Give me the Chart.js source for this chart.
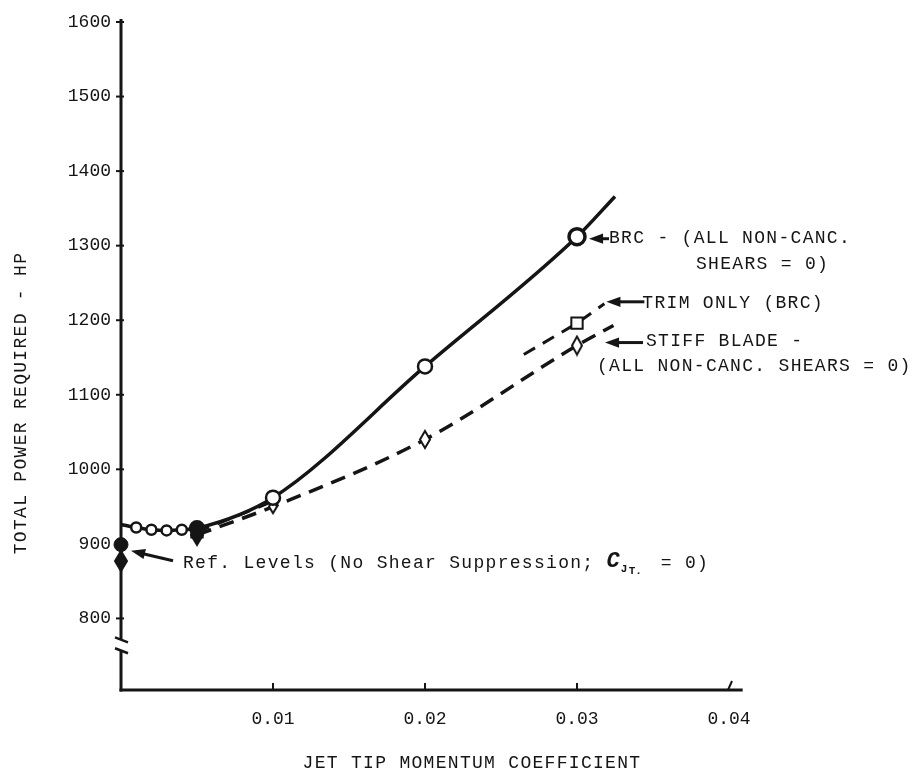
<!DOCTYPE html>
<html>
<head>
<meta charset="utf-8">
<title>Total power required vs jet tip momentum coefficient</title>
<script src="https://cdn.jsdelivr.net/npm/chart.js@4.4.1/dist/chart.umd.min.js"></script>
<style>
  html, body { margin: 0; padding: 0; background: #fff; }
  canvas { display: block; }
</style>
</head>
<body>
<canvas id="powerChart" width="923" height="779"></canvas>
<script>
// DATA
const yTicks = [800, 900, 1000, 1100, 1200, 1300, 1400, 1500, 1600];
const xTicks = [0.01, 0.02, 0.03, 0.04];

// BRC - all non-cancelling shears = 0 (solid)
const brcX = [0, 0.001, 0.002, 0.003, 0.004, 0.005, 0.01, 0.02, 0.03, 0.0325];
const brcY = [926, 922, 919, 918, 919, 921, 962, 1138, 1312, 1366];

// trim only (BRC) - null leaves the gap in the dashes
const trimX = [0.005, 0.01, 0.02, 0.0265, 0.03, 0.0318];
const trimY = [916, 957, null, 1154, 1196, 1222];

// stiff blade
const stiffX = [0.005, 0.01, 0.02, 0.03, 0.0324];
const stiffY = [912, 950, 1040, 1166, 1193];

// reference levels, no shear suppression
const refX = [0, 0];
const refY = [899, 877];

const FONT = "'Courier New', 'Liberation Mono', monospace";
const ink = "#151515";

Chart.defaults.font.family = FONT;
Chart.defaults.color = ink;

const toPoints = (xs, ys) => xs.map((x, i) => ({ x: x, y: ys[i] }));

// tall diamond marker
function diamond(w, h, filled) {
  const c = document.createElement("canvas");
  c.width = w + 4;
  c.height = h + 4;
  const g = c.getContext("2d");
  g.beginPath();
  g.moveTo(c.width / 2, 2);
  g.lineTo(c.width - 2, c.height / 2);
  g.lineTo(c.width / 2, c.height - 2);
  g.lineTo(2, c.height / 2);
  g.closePath();
  g.lineWidth = 2;
  g.strokeStyle = ink;
  g.fillStyle = filled ? ink : "#fff";
  g.fill();
  g.stroke();
  return c;
}

const dSmall = diamond(8, 13, false);
const dMid = diamond(10, 17, false);
const dBig = diamond(10, 18, false);
const dFilled = diamond(12, 20, true);

const axisFrame = {
  id: "axisFrame",
  beforeDatasetsDraw(chart) {
    const { ctx } = chart;
    const x = chart.scales.x;
    const y = chart.scales.y;
    const x0 = x.getPixelForValue(0);
    const yb = y.getPixelForValue(y.min);
    const line = (a, b, c, d) => {
      ctx.beginPath();
      ctx.moveTo(a, b);
      ctx.lineTo(c, d);
      ctx.stroke();
    };
    ctx.save();
    ctx.strokeStyle = ink;
    ctx.lineWidth = 3;

    // vertical axis with a break below 800
    const breakTop = y.getPixelForValue(772);
    const breakBot = y.getPixelForValue(756);
    line(x0, y.getPixelForValue(1600) - 3, x0, breakTop);
    line(x0, breakBot, x0, yb + 1.5);
    ctx.lineWidth = 2.5;
    line(x0 - 6, breakTop - 2, x0 + 7, breakTop + 3);
    line(x0 - 6, breakBot - 3, x0 + 7, breakBot + 2);

    // horizontal axis
    ctx.lineWidth = 3;
    line(x0 - 1.5, yb, x.getPixelForValue(0.0409), yb);

    // tick marks
    ctx.lineWidth = 2;
    yTicks.forEach(v => {
      const py = y.getPixelForValue(v);
      line(x0 - 5, py, x0 + 3, py);
    });
    xTicks.forEach(v => {
      const px = x.getPixelForValue(v);
      if (v === 0.04) line(px - 1, yb, px + 3, yb - 9);
      else line(px, yb, px, yb - 7);
    });
    ctx.restore();
  },
  afterDatasetsDraw(chart) {
    const { ctx } = chart;
    const x = chart.scales.x;
    const y = chart.scales.y;

    const arrow = (tipX, tipY, tailX, tailY) => {
      const ang = Math.atan2(tailY - tipY, tailX - tipX);
      ctx.beginPath();
      ctx.moveTo(tipX + Math.cos(ang) * 8, tipY + Math.sin(ang) * 8);
      ctx.lineTo(tailX, tailY);
      ctx.stroke();
      ctx.beginPath();
      ctx.moveTo(tipX, tipY);
      ctx.lineTo(tipX + Math.cos(ang + 0.35) * 15, tipY + Math.sin(ang + 0.35) * 15);
      ctx.lineTo(tipX + Math.cos(ang - 0.35) * 15, tipY + Math.sin(ang - 0.35) * 15);
      ctx.closePath();
      ctx.fill();
    };

    ctx.save();
    ctx.strokeStyle = ink;
    ctx.fillStyle = ink;
    ctx.lineWidth = 3;
    ctx.textBaseline = "middle";
    ctx.textAlign = "left";
    ctx.font = "18px " + FONT;
    ctx.letterSpacing = "1.3px";

    // BRC
    const bx = x.getPixelForValue(0.03);
    const by = y.getPixelForValue(1312);
    arrow(bx + 12, by + 2, bx + 32, by + 2);
    ctx.fillText("BRC - (ALL NON-CANC.", bx + 32, by + 2);
    ctx.fillText("SHEARS = 0)", bx + 119, by + 28);

    // trim only
    const tx = x.getPixelForValue(0.0318);
    const ty = y.getPixelForValue(1222);
    arrow(tx + 2, ty - 2, tx + 40, ty - 2);
    ctx.fillText("TRIM ONLY (BRC)", tx + 38, ty - 1);

    // stiff blade
    const sx = x.getPixelForValue(0.03);
    const sy = y.getPixelForValue(1166);
    arrow(sx + 28, sy - 3, sx + 66, sy - 3);
    ctx.fillText("STIFF BLADE -", sx + 69, sy - 4);
    ctx.fillText("(ALL NON-CANC. SHEARS = 0)", sx + 20, sy + 21);

    // reference levels
    const rx = x.getPixelForValue(0);
    const ry = y.getPixelForValue(888);
    arrow(rx + 10, ry - 2, rx + 52, ry + 8);
    const label = "Ref. Levels (No Shear Suppression; ";
    ctx.fillText(label, rx + 62, ry + 10);
    let px = rx + 62 + ctx.measureText(label).width;
    ctx.font = "italic bold 22px " + FONT;
    ctx.letterSpacing = "0px";
    ctx.fillText("C", px, ry + 9);
    px += ctx.measureText("C").width + 1;
    ctx.font = "bold 11px " + FONT;
    ctx.fillText("J", px, ry + 16);
    ctx.fillText("T.", px + 8, ry + 18);
    ctx.font = "18px " + FONT;
    ctx.letterSpacing = "1.3px";
    ctx.fillText("= 0)", px + 40, ry + 10);

    // axis titles
    ctx.textAlign = "center";
    ctx.fillText("JET TIP MOMENTUM COEFFICIENT", 472, 763);
    ctx.translate(21, 403);
    ctx.rotate(-Math.PI / 2);
    ctx.fillText("TOTAL POWER REQUIRED - HP", 0, 0);
    ctx.restore();
  }
};

const ctx = document.getElementById("powerChart").getContext("2d");

new Chart(ctx, {
  type: "line",
  data: {
    datasets: [
      {
        label: "BRC",
        data: toPoints(brcX, brcY),
        clip: false,
        borderColor: ink,
        borderWidth: 3.5,
        cubicInterpolationMode: "monotone",
        pointStyle: "circle",
        pointBorderColor: ink,
        pointBorderWidth: c => (c.raw && c.raw.x >= 0.03 ? 3.5 : 2.5),
        pointBackgroundColor: c => (c.raw && c.raw.x === 0.005 ? ink : "#fff"),
        pointRadius: c => {
          const v = c.raw ? c.raw.x : 0;
          if (v === 0 || v > 0.031) return 0;
          if (v < 0.0045) return 5;
          if (v < 0.025) return 7;
          return 8;
        },
      },
      {
        label: "Trim only (BRC)",
        data: toPoints(trimX, trimY),
        clip: false,
        borderColor: ink,
        borderWidth: 3,
        borderDash: [13, 9],
        spanGaps: false,
        pointStyle: "rect",
        pointBorderColor: ink,
        pointBorderWidth: 2,
        pointBackgroundColor: c => (c.raw && c.raw.x === 0.005 ? ink : "#fff"),
        pointRadius: c => {
          const v = c.raw ? c.raw.x : 0;
          return v === 0.03 || v === 0.005 ? 8 : 0;
        },
      },
      {
        label: "Stiff blade",
        data: toPoints(stiffX, stiffY),
        clip: false,
        borderColor: ink,
        borderWidth: 3.5,
        borderDash: [15, 9],
        cubicInterpolationMode: "monotone",
        pointStyle: c => {
          const v = c.raw ? c.raw.x : 0;
          if (v === 0.005) return dFilled;
          if (v === 0.01) return dSmall;
          if (v === 0.02) return dMid;
          return dBig;
        },
        pointRadius: c => {
          const v = c.raw ? c.raw.x : 0;
          return v > 0.031 ? 0 : 8;
        },
      },
      {
        label: "Ref. levels",
        data: toPoints(refX, refY),
        clip: false,
        showLine: false,
        pointStyle: ["circle", dFilled],
        pointRadius: 7,
        pointBackgroundColor: ink,
        pointBorderColor: ink,
      },
    ],
  },
  options: {
    responsive: false,
    animation: false,
    devicePixelRatio: 1,
    layout: { padding: { top: 22, right: 194, left: 0, bottom: 0 } },
    scales: {
      x: {
        type: "linear",
        min: 0,
        max: 0.04,
        border: { display: false },
        grid: { display: false, drawTicks: false },
        afterBuildTicks: s => { s.ticks = xTicks.map(v => ({ value: v })); },
        afterFit: s => { s.height = 89; },
        ticks: {
          padding: 18,
          font: { size: 18 },
          color: ink,
          callback: v => v.toFixed(2),
        },
      },
      y: {
        min: 704,
        max: 1600,
        border: { display: false },
        grid: { display: false, drawTicks: false },
        afterBuildTicks: s => { s.ticks = yTicks.map(v => ({ value: v })); },
        afterFit: s => { s.width = 121; },
        ticks: {
          padding: 10,
          font: { size: 18 },
          color: ink,
          callback: v => String(v),
        },
      },
    },
    plugins: {
      legend: { display: false },
      tooltip: { enabled: false },
    },
  },
  plugins: [axisFrame],
});
</script>
</body>
</html>
